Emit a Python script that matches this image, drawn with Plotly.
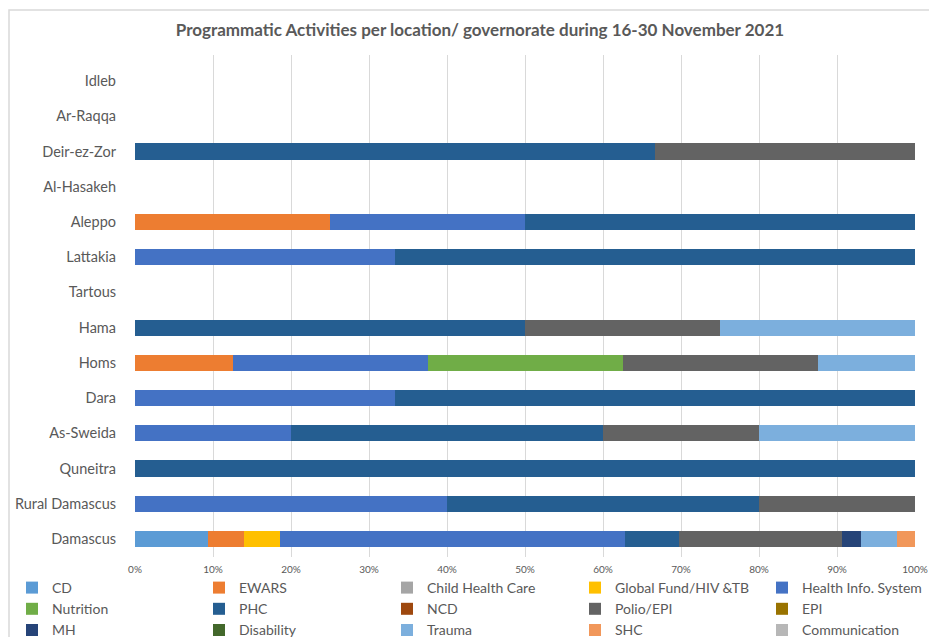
import plotly.graph_objects as go

# ---- data (counts per governorate; chart shows 100% stacked shares) ----
governorates = ["Idleb", "Ar-Raqqa", "Deir-ez-Zor", "Al-Hasakeh", "Aleppo", "Lattakia",
                "Tartous", "Hama", "Homs", "Dara", "As-Sweida", "Quneitra",
                "Rural Damascus", "Damascus"]

cd            = [0, 0, 0, 0, 0, 0, 0, 0, 0, 0, 0, 0, 0, 4]
ewars         = [0, 0, 0, 0, 1, 0, 0, 0, 1, 0, 0, 0, 0, 2]
child_health  = [0, 0, 0, 0, 0, 0, 0, 0, 0, 0, 0, 0, 0, 0]
global_fund   = [0, 0, 0, 0, 0, 0, 0, 0, 0, 0, 0, 0, 0, 2]
his           = [0, 0, 0, 0, 1, 1, 0, 0, 2, 1, 1, 0, 2, 19]
nutrition     = [0, 0, 0, 0, 0, 0, 0, 0, 2, 0, 0, 0, 0, 0]
phc           = [0, 0, 2, 0, 2, 2, 0, 2, 0, 2, 2, 1, 2, 3]
ncd           = [0, 0, 0, 0, 0, 0, 0, 0, 0, 0, 0, 0, 0, 0]
polio_epi     = [0, 0, 1, 0, 0, 0, 0, 1, 2, 0, 1, 0, 1, 9]
epi           = [0, 0, 0, 0, 0, 0, 0, 0, 0, 0, 0, 0, 0, 0]
mh            = [0, 0, 0, 0, 0, 0, 0, 0, 0, 0, 0, 0, 0, 1]
disability    = [0, 0, 0, 0, 0, 0, 0, 0, 0, 0, 0, 0, 0, 0]
trauma        = [0, 0, 0, 0, 0, 0, 0, 1, 1, 0, 1, 0, 0, 2]
shc           = [0, 0, 0, 0, 0, 0, 0, 0, 0, 0, 0, 0, 0, 1]
communication = [0, 0, 0, 0, 0, 0, 0, 0, 0, 0, 0, 0, 0, 0]

series_names = ["CD", "EWARS", "Child Health Care", "Global Fund/HIV &TB",
                "Health Info. System", "Nutrition", "PHC", "NCD", "Polio/EPI", "EPI",
                "MH", "Disability", "Trauma", "SHC", "Communication"]
series_values = [cd, ewars, child_health, global_fund, his, nutrition, phc, ncd,
                 polio_epi, epi, mh, disability, trauma, shc, communication]
series_colors = ["#5B9BD5", "#ED7D31", "#A5A5A5", "#FFC000", "#4472C4",
                 "#70AD47", "#255E91", "#9E480E", "#636363", "#997300",
                 "#264478", "#43682B", "#7CAFDD", "#F1975A", "#B7B7B7"]

title_text = "Programmatic Activities per location/ governorate during 16-30 November 2021"

FONT = "Lato"
TXT = "#595959"

fig = go.Figure()
legend_ids = ["legend", "legend2", "legend3", "legend4", "legend5"]
for i, (name, vals, col) in enumerate(zip(series_names, series_values, series_colors)):
    fig.add_trace(go.Bar(
        y=governorates, x=vals, name=name, orientation="h",
        marker=dict(color=col, line=dict(width=0)),
        legend=legend_ids[i % 5], legendgroup=name,
    ))

# page is rendered with an 8px body margin -> work in page pixels, subtract OFF
OFF = 8
W, H = 937, 637
plot_left, plot_right, plot_top, plot_bottom = 135 - OFF, 915 - OFF, 55 - OFF, 557 - OFF
L, R, T, B = plot_left, W - plot_right, plot_top, H - plot_bottom
plot_w = plot_right - plot_left
plot_h = plot_bottom - plot_top

legend_square_px = [37, 224, 412, 600, 787]   # page x of legend squares in reference
legend_common = dict(
    orientation="v", xref="paper", yref="paper",
    yanchor="top", xanchor="left",
    font=dict(family=FONT, size=14, color=TXT),
    bgcolor="rgba(0,0,0,0)", tracegroupgap=3, itemwidth=30,
    traceorder="normal",
)
legends = {}
for k, lid in enumerate(legend_ids):
    fig_left = legend_square_px[k] - 25 - OFF
    legends[lid] = dict(legend_common,
                        x=(fig_left - plot_left) / plot_w,
                        y=(plot_bottom - (572 - OFF)) / plot_h)

fig.update_layout(
    width=W, height=H,
    margin=dict(l=L, r=R, t=T, b=B, autoexpand=False),
    paper_bgcolor="white", plot_bgcolor="white",
    barmode="stack", barnorm="percent", bargap=0.54,
    font=dict(family=FONT, color=TXT),
    title=dict(text=f"<b>{title_text}</b>", x=(480 - OFF) / W, xanchor="center",
               xref="container", yref="container",
               y=1 - (30 - OFF) / H, yanchor="middle",
               font=dict(family=FONT, size=17, color=TXT)),
    showlegend=True,
    **legends,
)

fig.update_xaxes(range=[0, 100], dtick=10, ticksuffix="%",
                 showgrid=True, gridcolor="#D9D9D9", gridwidth=1,
                 zeroline=False, showline=False, automargin=False,
                 ticklabelstandoff=5,
                 tickfont=dict(family=FONT, size=10, color=TXT))
fig.update_yaxes(autorange=False, range=[13.51, -0.738], type="category",
                 showgrid=False, zeroline=False, showline=False, automargin=False,
                 ticklabelstandoff=18,
                 tickfont=dict(family=FONT, size=14.5, color=TXT))

# outer chart border (light gray frame), page (8,10) -> extends past right/bottom
fig.add_shape(type="rect", xref="paper", yref="paper",
              x0=(8 - OFF + 1 - plot_left) / plot_w, x1=(W + 20 - plot_left) / plot_w,
              y0=(plot_bottom - (H + 20)) / plot_h, y1=(plot_bottom - (10 - OFF)) / plot_h,
              line=dict(color="#D9D9D9", width=1.5), fillcolor="rgba(0,0,0,0)",
              layer="below")

fig.write_html("out.html")
